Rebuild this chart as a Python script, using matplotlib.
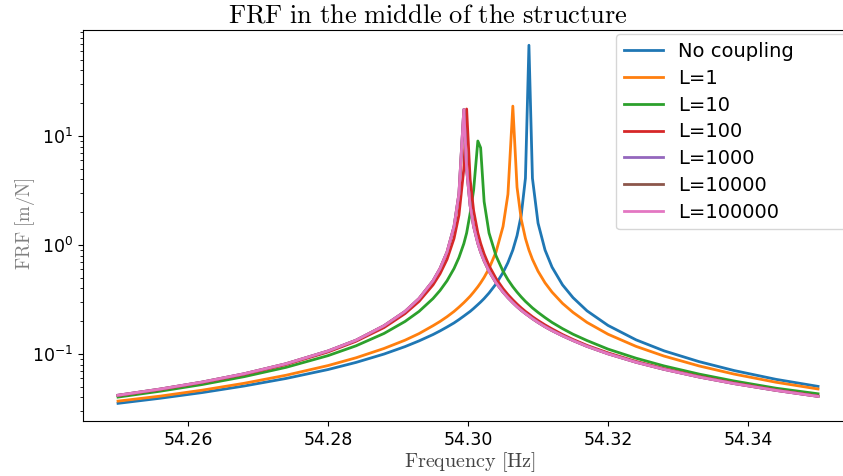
import numpy as np
import matplotlib
matplotlib.use("Agg")
from matplotlib import pyplot as plt

# frequency grid [Hz]
freq = [54.2500, 54.2560, 54.2620, 54.2680, 54.2740, 54.2800, 54.2840, 54.2880,
        54.2910, 54.2930, 54.2950, 54.2960, 54.2970, 54.2980, 54.2987, 54.2994,
        54.2998, 54.3003, 54.3008, 54.3014, 54.3018, 54.3023, 54.3030, 54.3040,
        54.3050, 54.3057, 54.3064, 54.3070, 54.3076, 54.3082, 54.3087, 54.3092,
        54.3100, 54.3110, 54.3120, 54.3135, 54.3150, 54.3170, 54.3200, 54.3240,
        54.3280, 54.3330, 54.3380, 54.3440, 54.3500]

# FRF amplitude [m/N] for each case
no_coupling = [0.0353, 0.0393, 0.0443, 0.0509, 0.0597, 0.0721, 0.0838, 0.100,
               0.117, 0.132, 0.151, 0.163, 0.177, 0.193, 0.207, 0.223,
               0.233, 0.246, 0.262, 0.284, 0.300, 0.323, 0.363, 0.440,
               0.559, 0.690, 0.900, 1.22, 1.88, 4.1, 68.0, 4.1,
               1.59, 0.900, 0.627, 0.431, 0.329, 0.249, 0.183, 0.135,
               0.107, 0.0852, 0.0706, 0.0586, 0.0505]
l1 = [0.0370, 0.0411, 0.0466, 0.0539, 0.0639, 0.0784, 0.0924, 0.1125,
      0.134, 0.154, 0.182, 0.199, 0.220, 0.246, 0.269, 0.296,
      0.314, 0.339, 0.370, 0.414, 0.450, 0.505, 0.609, 0.863,
      1.48, 2.92, 18.8, 3.39, 1.72, 1.15, 0.900, 0.739,
      0.575, 0.450, 0.370, 0.2915, 0.241, 0.195, 0.152, 0.1176,
      0.0958, 0.0778, 0.0655, 0.0551, 0.0478]
l10 = [0.0403, 0.0456, 0.0525, 0.0620, 0.0755, 0.0967, 0.119, 0.1545,
       0.199, 0.246, 0.323, 0.383, 0.470, 0.609, 0.767, 1.03,
       1.29, 1.95, 3.2, 9.0, 7.8, 2.5, 1.29, 0.796,
       0.575, 0.481, 0.414, 0.370, 0.334, 0.304, 0.284, 0.265,
       0.241, 0.216, 0.195, 0.171, 0.152, 0.133, 0.111, 0.0916,
       0.0778, 0.0655, 0.0566, 0.0486, 0.0432]
l100 = [0.0416, 0.0473, 0.0548, 0.0651, 0.0802, 0.1045, 0.131, 0.175,
        0.235, 0.304, 0.431, 0.545, 0.739, 1.15, 1.88, 5.0,
        17.7, 4.0, 2.06, 1.29, 1.035, 0.828, 0.647, 0.493,
        0.398, 0.351, 0.314, 0.2875, 0.265, 0.246, 0.233, 0.220,
        0.203, 0.185, 0.170, 0.151, 0.136, 0.120, 0.1025, 0.0855,
        0.0734, 0.0623, 0.0542, 0.0468, 0.0412]
l1000 = [0.0419, 0.0477, 0.0553, 0.0659, 0.0815, 0.1067, 0.134, 0.182,
         0.246, 0.323, 0.470, 0.609, 0.863, 1.48, 2.95, 17.5,
         5.0, 2.3, 1.48, 1.035, 0.863, 0.714, 0.575, 0.450,
         0.370, 0.329, 0.296, 0.272, 0.252, 0.235, 0.223, 0.211,
         0.195, 0.178, 0.164, 0.147, 0.133, 0.1176, 0.1005, 0.0841,
         0.0724, 0.0616, 0.0536, 0.0464, 0.0409]
l10000 = [0.0419, 0.0477, 0.0553, 0.0659, 0.0815, 0.1067, 0.134, 0.182,
          0.246, 0.323, 0.470, 0.609, 0.863, 1.48, 2.95, 17.5,
          5.0, 2.3, 1.48, 1.035, 0.863, 0.714, 0.575, 0.450,
          0.370, 0.329, 0.296, 0.272, 0.252, 0.235, 0.223, 0.211,
          0.195, 0.178, 0.164, 0.147, 0.133, 0.1176, 0.1005, 0.0841,
          0.0724, 0.0616, 0.0536, 0.0464, 0.0409]
l100000 = [0.0419, 0.0477, 0.0553, 0.0659, 0.0815, 0.1067, 0.134, 0.182,
           0.246, 0.323, 0.470, 0.609, 0.863, 1.48, 2.95, 17.5,
           5.0, 2.3, 1.48, 1.035, 0.863, 0.714, 0.575, 0.450,
           0.370, 0.329, 0.296, 0.272, 0.252, 0.235, 0.223, 0.211,
           0.195, 0.178, 0.164, 0.147, 0.133, 0.1176, 0.1005, 0.0841,
           0.0724, 0.0616, 0.0536, 0.0464, 0.0409]

series = [no_coupling, l1, l10, l100, l1000, l10000, l100000]
labels = ["No coupling", "L=1", "L=10", "L=100", "L=1000", "L=10000", "L=100000"]
xticks = [54.26, 54.28, 54.30, 54.32, 54.34]

fig = plt.figure(figsize=(8.43, 4.76), dpi=100)
# axes run past the right edge, as in the cropped original
ax = fig.add_axes([0.0985, 0.1155, 0.9134, 0.8214])

for y, lab in zip(series, labels):
    ax.semilogy(freq, y, lw=2, label=lab)

ax.set_xlim(54.245, 54.355)
ax.set_ylim(0.0243, 93.8)
ax.set_xticks(xticks)
ax.set_xticklabels([f"{t:.2f}" for t in xticks])
ax.tick_params(labelsize=12.5)

ax.set_xlabel(r"$\mathrm{Frequency\ [Hz]}$", fontsize=14.5, color="#444444",
              math_fontfamily="cm")
ax.xaxis.set_label_coords(0.502, -0.075)
ax.set_ylabel(r"$\mathrm{FRF\ [m/N]}$", fontsize=13.5, color="#808080",
              math_fontfamily="cm")
ax.yaxis.set_label_coords(-0.060, 0.505)

fig.text(0.508, 0.968, r"$\mathrm{FRF\ in\ the\ middle\ of\ the\ structure}$",
         fontsize=19, ha="center", va="center", math_fontfamily="cm")

# legend box is wider than its text and runs off the right edge
ax.legend(loc="upper left", fontsize=14, labelspacing=0.4,
          bbox_to_anchor=(616 / 843, 1 - 39 / 476, 270 / 843, 0.01),
          bbox_transform=fig.transFigure, mode="expand", borderaxespad=0)

fig.savefig("out.png", dpi=100)
